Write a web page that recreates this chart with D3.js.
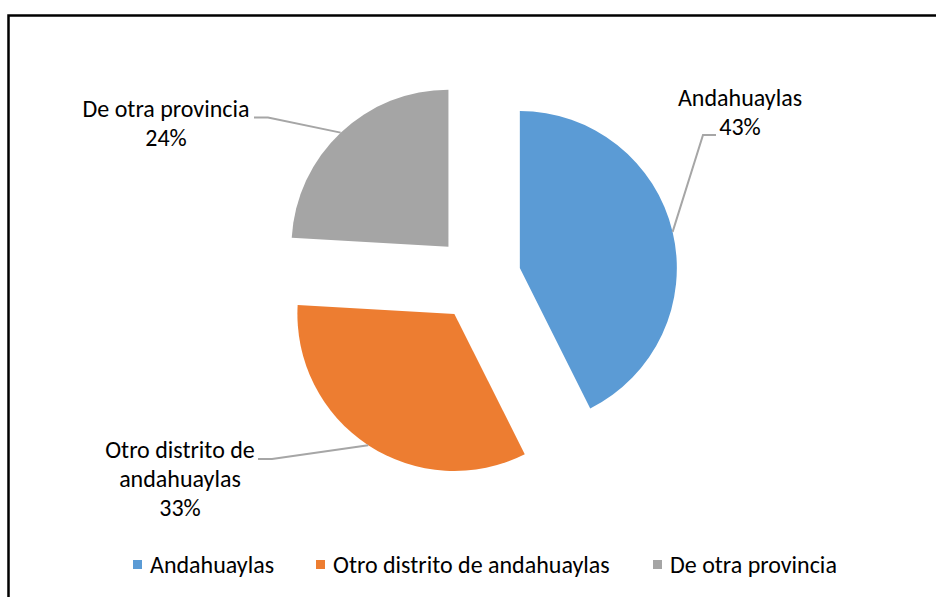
<!DOCTYPE html>
<html><head><meta charset="utf-8">
<script src="https://cdn.jsdelivr.net/npm/d3@7"></script>
<style>
html,body{margin:0;padding:0;background:#fff;}
svg{display:block;}
text{font-family:Calibri,Carlito,Lato,sans-serif;fill:#000;}
</style></head>
<body>
<script>
const categories = ["Andahuaylas", "Otro distrito de andahuaylas", "De otra provincia"];
const values = [42.6, 33.3, 24.1];
const colors = ["#5B9BD5", "#ED7D31", "#A5A5A5"];
const labelLines = [["Andahuaylas"], ["Otro distrito de", "andahuaylas"], ["De otra provincia"]];

const W = 936, H = 597;
const svg = d3.select("body").append("svg").attr("width", W).attr("height", H);

// chart border (clipped on right and bottom)
svg.append("rect").attr("x", 8.5).attr("y", 15.5).attr("width", 940).attr("height", 600)
  .attr("fill", "none").attr("stroke", "#000").attr("stroke-width", 2.5);

const cx = 478, cy = 278, R = 157, explode = 43;
const FS = 24;
const total = d3.sum(values);
const pct = d3.format(".0%");

const pie = d3.pie().sort(null).value(d => d).startAngle(0).endAngle(2 * Math.PI);
const arcs = pie(values);
const arc = d3.arc().innerRadius(0).outerRadius(R);

const g = svg.append("g").attr("transform", `translate(${cx},${cy})`);

function offset(a) {
  const m = (a.startAngle + a.endAngle) / 2;
  return [explode * Math.sin(m), -explode * Math.cos(m)];
}
function onArc(a) {
  const m = (a.startAngle + a.endAngle) / 2;
  const o = offset(a);
  return [o[0] + R * Math.sin(m), o[1] - R * Math.cos(m)];
}

g.selectAll("path.slice").data(arcs).enter().append("path")
  .attr("class", "slice")
  .attr("d", arc)
  .attr("fill", (d, i) => colors[i])
  .attr("transform", d => `translate(${offset(d)})`);

// label placements (text centers / first baselines) and leader start points
const labelPos = [
  {x: 740, y: 106, lx: [716, 703], ly: 135},
  {x: 180, y: 458, lx: [258, 272], ly: 459},
  {x: 166, y: 117, lx: [254, 268], ly: 117.5}
];
const lh = 29;

arcs.forEach((a, i) => {
  const p = labelPos[i];
  const end = onArc(a);
  const ex = cx + end[0], ey = cy + end[1];
  svg.append("polyline")
    .attr("points", `${p.lx[0]},${p.ly} ${p.lx[1]},${p.ly} ${ex},${ey}`)
    .attr("fill", "none").attr("stroke", "#A6A6A6").attr("stroke-width", 2);
  const lines = labelLines[i].concat([pct(values[i] / total)]);
  const t = svg.append("text").attr("text-anchor", "middle").attr("font-size", FS);
  lines.forEach((s, k) => {
    t.append("tspan").attr("x", p.x).attr("y", p.y + k * lh).text(s);
  });
});

// legend
const legend = svg.append("g");
const lxPos = [133, 316, 653];
categories.forEach((c, i) => {
  legend.append("rect").attr("x", lxPos[i]).attr("y", 560).attr("width", 9).attr("height", 9).attr("fill", colors[i]);
  legend.append("text").attr("x", lxPos[i] + 17).attr("y", 573).attr("font-size", FS).text(c);
});
</script>
</body></html>
